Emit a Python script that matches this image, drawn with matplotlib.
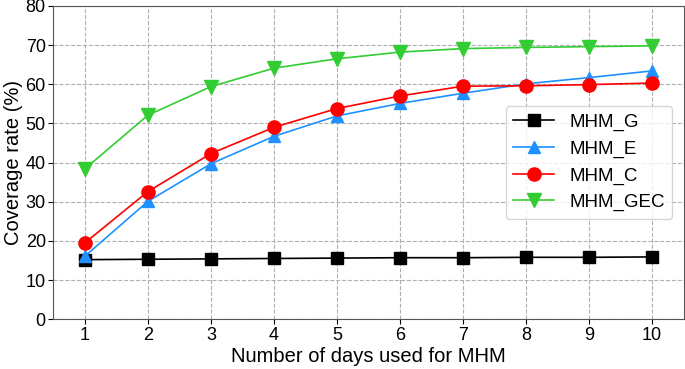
import matplotlib.pyplot as plt

plt.rcParams['font.family'] = ['Liberation Sans', 'DejaVu Sans']

days = [1, 2, 3, 4, 5, 6, 7, 8, 9, 10]
mhm_g = [15.2, 15.3, 15.4, 15.5, 15.6, 15.7, 15.7, 15.8, 15.8, 15.9]
mhm_e = [16.1, 30.1, 39.7, 46.7, 51.9, 55.1, 57.7, 60.1, 61.7, 63.4]
mhm_c = [19.5, 32.6, 42.3, 49.0, 53.8, 57.0, 59.5, 59.6, 59.9, 60.3]
mhm_gec = [38.4, 52.1, 59.4, 64.1, 66.5, 68.2, 69.1, 69.4, 69.6, 69.8]

fig, ax = plt.subplots(figsize=(6.85, 3.69), dpi=100)
fig.subplots_adjust(left=0.078, right=0.998, top=0.984, bottom=0.135)

ax.plot(days, mhm_g, color='black', marker='s', markersize=9, lw=1.2, label='MHM_G', zorder=3)
ax.plot(days, mhm_e, color='#1e90ff', marker='^', markersize=9, lw=1.2, label='MHM_E', zorder=3)
ax.plot(days, mhm_c, color='#ff0000', marker='o', markersize=9.5, lw=1.2, label='MHM_C', zorder=3)
ax.plot(days, mhm_gec, color='#32cd32', marker='v', markersize=9.5, lw=1.2, label='MHM_GEC', zorder=3)

ax.set_xlim(0.5, 10.5)
ax.set_ylim(0, 80)
ax.set_xticks(days)
ax.set_yticks(range(0, 81, 10))
ax.tick_params(labelsize=13, pad=2)
for sp in ax.spines.values():
    sp.set_color('#555555')
ax.grid(True, linestyle='--', color='#b0b0b0', lw=0.8)
ax.set_xlabel('Number of days used for MHM', fontsize=14.5, labelpad=2)
ax.set_ylabel('Coverage rate (%)', fontsize=14.5, labelpad=2)
ax.legend(loc='center right', fontsize=13.5, handlelength=2.2, borderaxespad=0.6)

fig.savefig('out.png')
